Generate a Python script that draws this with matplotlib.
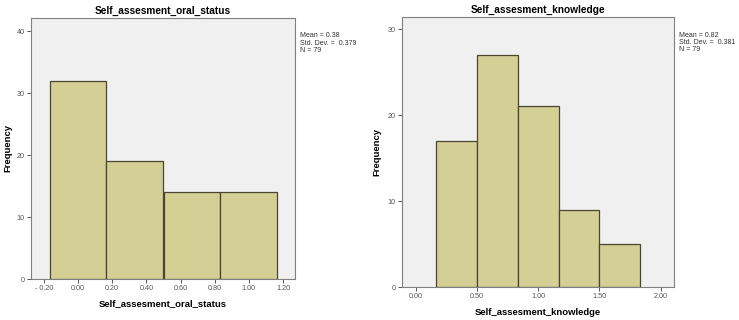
import matplotlib
matplotlib.use("Agg")
import matplotlib.pyplot as plt

plt.rcParams['font.family'] = ['Liberation Sans', 'DejaVu Sans']

# data
oral_centers = [0.0, 0.333, 0.667, 1.0]
oral_counts = [32, 19, 14, 14]
oral_ticks = [-0.2, 0.0, 0.2, 0.4, 0.6, 0.8, 1.0, 1.2]
oral_ticklabels = ['- 0.20', '0.00', '0.20', '0.40', '0.60', '0.80', '1.00', '1.20']
oral_stats = "Mean = 0.38\nStd. Dev. =  0.379\nN = 79"

know_centers = [0.333, 0.667, 1.0, 1.333, 1.667]
know_counts = [17, 27, 21, 9, 5]
know_ticks = [0.0, 0.5, 1.0, 1.5, 2.0]
know_ticklabels = ['0.00', '0.50', '1.00', '1.50', '2.00']
know_stats = "Mean = 0.82\nStd. Dev. =  0.381\nN = 79"

bin_width = 0.333

bar_color = '#d4cf95'
edge_color = '#4a4530'
bg_color = '#f0f0f0'

fig = plt.figure(figsize=(7.39, 3.2), dpi=100)
ax1 = fig.add_axes([31/739, 1 - 279/320, 264/739, 261/320])
ax2 = fig.add_axes([402/739, 1 - 287/320, 272/739, 270/320])


def draw_hist(ax, centers, counts, ticks, ticklabels, yticks, xlim, ylim, name, stats, lab_x, lab_y):
    ax.set_facecolor(bg_color)
    ax.bar(centers, counts, width=bin_width, color=bar_color, edgecolor=edge_color, linewidth=0.9)
    ax.set_xlim(*xlim)
    ax.set_ylim(*ylim)
    ax.set_xticks(ticks)
    ax.set_xticklabels(ticklabels)
    ax.set_yticks(yticks)
    ax.tick_params(axis='both', labelsize=5.2, colors='#555555', length=3, width=0.7, pad=1.5)
    for s in ax.spines.values():
        s.set_color('#808080')
        s.set_linewidth(0.8)
    ax.set_title(name, fontsize=7.3, fontweight='bold', pad=3)
    ax.set_xlabel(name, fontsize=6.8, fontweight='bold', va='center')
    ax.set_ylabel('Frequency', fontsize=6.8, fontweight='bold', va='center')
    ax.xaxis.set_label_coords(0.5, lab_y)
    ax.yaxis.set_label_coords(lab_x, 0.5)
    ax.text(1.019, 0.945, stats, transform=ax.transAxes, fontsize=5, va='top', ha='left',
            linespacing=1.05, color='#333333')


draw_hist(ax1, oral_centers, oral_counts, oral_ticks, oral_ticklabels, [0, 10, 20, 30, 40],
          (-0.275, 1.27), (0, 42.1), 'Self_assesment_oral_status', oral_stats, -0.087, -0.096)
draw_hist(ax2, know_centers, know_counts, know_ticks, know_ticklabels, [0, 10, 20, 30],
          (-0.112, 2.109), (0, 31.4), 'Self_assesment_knowledge', know_stats, -0.092, -0.093)

fig.savefig('out.png', dpi=100)
